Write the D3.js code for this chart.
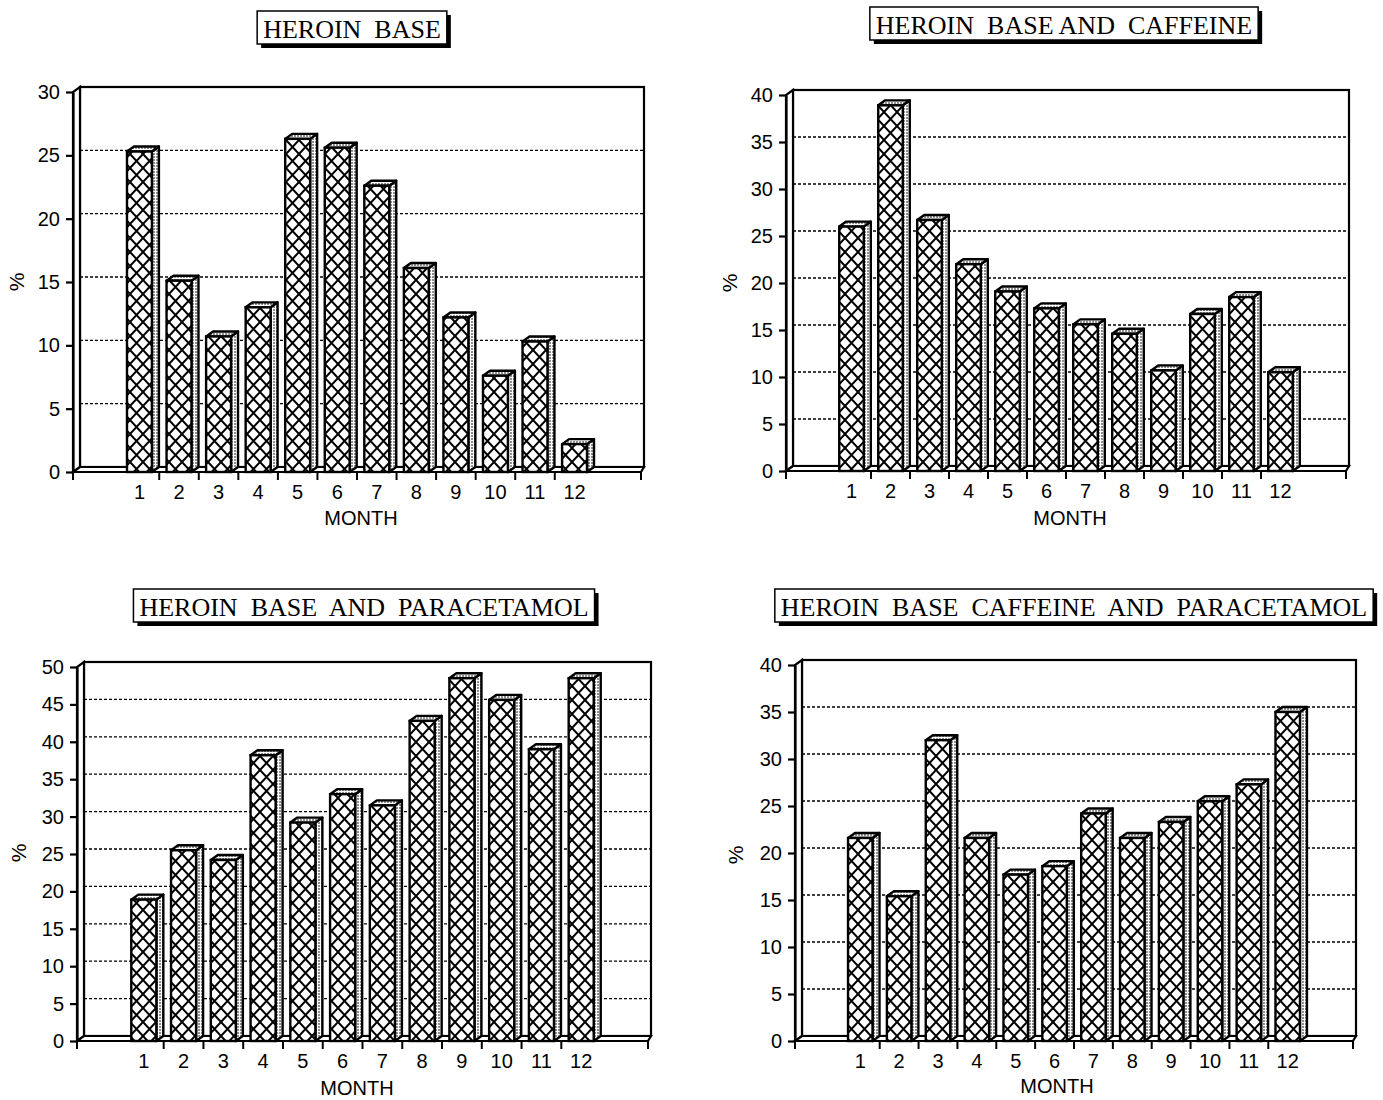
<!DOCTYPE html>
<html>
<head>
<meta charset="utf-8">
<script src="https://cdn.jsdelivr.net/npm/d3@7"></script>
<style>
  body { margin: 0; background: #fff; }
  .title { font-family: "Liberation Serif", "Times New Roman", serif; white-space: pre; }
</style>
</head>
<body>
<div id="chart"></div>
<script>
// data (percent per month)
var months = ["1", "2", "3", "4", "5", "6", "7", "8", "9", "10", "11", "12"];
var heroinBase = [25.3, 15.1, 10.7, 13.0, 26.3, 25.6, 22.6, 16.1, 12.2, 7.6, 10.3, 2.2];
var heroinCaffeine = [26.0, 38.9, 26.7, 22.0, 19.1, 17.3, 15.6, 14.6, 10.7, 16.7, 18.5, 10.5];
var heroinParacetamol = [18.9, 25.5, 24.2, 38.2, 29.2, 33.0, 31.5, 42.8, 48.5, 45.6, 39.0, 48.5];
var heroinCaffParac = [21.6, 15.4, 32.0, 21.6, 17.7, 18.6, 24.2, 21.6, 23.3, 25.5, 27.3, 35.0];

var titles = ["HEROIN  BASE", "HEROIN  BASE AND  CAFFEINE",
              "HEROIN  BASE  AND  PARACETAMOL", "HEROIN  BASE  CAFFEINE  AND  PARACETAMOL"];
var ticks30 = [0, 5, 10, 15, 20, 25, 30];
var ticks40 = [0, 5, 10, 15, 20, 25, 30, 35, 40];
var ticks50 = [0, 5, 10, 15, 20, 25, 30, 35, 40, 45, 50];
var yLabel = "%";
var xLabel = "MONTH";

// panel layout (positions only)
var panels = [
  {values: heroinBase,        ticks: ticks30, L: 73,  R: 641,  y0: 472,  top: 92,  tx: 352,  ty: 38,  px: 18,  py: 282, mx: 361,  my: 520},
  {values: heroinCaffeine,    ticks: ticks40, L: 786, R: 1346, y0: 471,  top: 95,  tx: 1064, ty: 34,  px: 731, py: 283, mx: 1070, my: 520},
  {values: heroinParacetamol, ticks: ticks50, L: 77,  R: 648,  y0: 1041, top: 667, tx: 364,  ty: 616, px: 20,  py: 853, mx: 357,  my: 1090},
  {values: heroinCaffParac,   ticks: ticks40, L: 795, R: 1353, y0: 1041, top: 665, tx: 1074, ty: 616, px: 737, py: 855, mx: 1057, my: 1088}
];

var dx = 7, dy = -5;   // 3d depth offset

var svg = d3.select("#chart").append("svg")
    .attr("width", 1383)
    .attr("height", 1100);

// fill patterns
var defs = svg.append("defs");
var hatch = defs.append("pattern")
    .attr("id", "hatch")
    .attr("patternUnits", "userSpaceOnUse")
    .attr("width", 13).attr("height", 14);
hatch.append("rect").attr("width", 13).attr("height", 14).attr("fill", "#fff");
hatch.append("path")
    .attr("d", "M0,0L13,14M13,0L0,14")
    .attr("stroke", "#000").attr("stroke-width", 2);

var dots = defs.append("pattern")
    .attr("id", "dots")
    .attr("patternUnits", "userSpaceOnUse")
    .attr("width", 3).attr("height", 3);
dots.append("rect").attr("width", 3).attr("height", 3).attr("fill", "#fff");
dots.append("circle").attr("cx", 1).attr("cy", 1).attr("r", 0.8).attr("fill", "#000");

panels.forEach(function(p, i) {
    var g = svg.append("g");
    var yMax = p.ticks[p.ticks.length - 1];

    var y = d3.scaleLinear().domain([0, yMax]).range([p.y0, p.top]);
    var x = d3.scaleBand().domain(months).range([p.L, p.R]).paddingInner(0).paddingOuter(1.18);
    var step = x.step();
    var w = step * 0.63;
    var Rb = p.R + 3;

    // back wall
    g.append("rect")
        .attr("x", p.L + dx).attr("y", p.top + dy)
        .attr("width", Rb - p.L - dx).attr("height", p.y0 - p.top)
        .attr("fill", "#fff").attr("stroke", "#000").attr("stroke-width", 2.2);

    // gridlines on the back wall
    g.selectAll(".grid")
        .data(p.ticks.filter(function(t) { return t > 0 && t < yMax; }))
        .join("line")
        .attr("x1", p.L + dx).attr("x2", Rb)
        .attr("y1", function(d) { return y(d) + dy; })
        .attr("y2", function(d) { return y(d) + dy; })
        .attr("stroke", "#000").attr("stroke-width", 1.3)
        .attr("stroke-dasharray", "3,2");

    // left wall
    g.append("polygon")
        .attr("points", [[p.L, p.y0], [p.L, p.top], [p.L + dx, p.top + dy], [p.L + dx, p.y0 + dy]].join(" "))
        .attr("fill", "#fff").attr("stroke", "#000").attr("stroke-width", 2.2);

    // floor
    g.append("polygon")
        .attr("points", [[p.L, p.y0], [p.R, p.y0], [Rb, p.y0 + dy], [p.L + dx, p.y0 + dy]].join(" "))
        .attr("fill", "#fff").attr("stroke", "#000").attr("stroke-width", 2.2);

    // bars: side, cap, front
    var bars = g.selectAll(".bar")
        .data(p.values)
        .join("g");

    var fx = function(d, j) { return x(months[j]) + (step - w) / 2; };

    bars.append("polygon")
        .attr("points", function(d, j) {
            var x0 = fx(d, j) + w, yt = y(d);
            return [[x0, p.y0], [x0, yt], [x0 + dx, yt + dy], [x0 + dx, p.y0 + dy]].join(" ");
        })
        .attr("fill", "url(#dots)").attr("stroke", "#000").attr("stroke-width", 2.4)
        .attr("stroke-linejoin", "round");

    bars.append("polygon")
        .attr("points", function(d, j) {
            var x0 = fx(d, j), yt = y(d);
            return [[x0, yt], [x0 + dx, yt + dy], [x0 + w + dx, yt + dy], [x0 + w, yt]].join(" ");
        })
        .attr("fill", "url(#dots)").attr("stroke", "#000").attr("stroke-width", 2.4)
        .attr("stroke-linejoin", "round");

    bars.append("rect")
        .attr("x", fx)
        .attr("y", function(d) { return y(d); })
        .attr("width", w)
        .attr("height", function(d) { return p.y0 - y(d); })
        .attr("fill", "url(#hatch)").attr("stroke", "#000").attr("stroke-width", 2.4);

    // y axis
    var yAxis = g.append("g")
        .attr("transform", "translate(" + p.L + ",0)")
        .call(d3.axisLeft(y).tickValues(p.ticks).tickSize(7).tickPadding(6).tickSizeOuter(0));
    yAxis.attr("font-size", 20).attr("font-family", "'Liberation Sans', Arial, sans-serif");
    yAxis.selectAll("path, line").attr("stroke-width", 2.2);

    // x axis labels
    var xAxis = g.append("g")
        .attr("transform", "translate(0," + p.y0 + ")")
        .call(d3.axisBottom(x).tickSize(0).tickPadding(13));
    xAxis.attr("font-size", 20).attr("font-family", "'Liberation Sans', Arial, sans-serif");
    xAxis.select(".domain").remove();

    // x axis line and tick marks between months
    g.append("line")
        .attr("x1", p.L).attr("x2", p.R)
        .attr("y1", p.y0).attr("y2", p.y0)
        .attr("stroke", "#000").attr("stroke-width", 2.2);
    var marks = [p.L].concat(months.slice(1).map(function(m) { return x(m); })).concat([p.R]);
    g.selectAll(".mark")
        .data(marks)
        .join("line")
        .attr("x1", function(d) { return d; }).attr("x2", function(d) { return d; })
        .attr("y1", p.y0).attr("y2", p.y0 + 8)
        .attr("stroke", "#000").attr("stroke-width", 2);

    // axis titles
    g.append("text")
        .attr("transform", "translate(" + p.px + "," + p.py + ") rotate(-90)")
        .attr("text-anchor", "middle")
        .attr("dominant-baseline", "middle")
        .style("font", "21px 'Liberation Sans', Arial, sans-serif")
        .text(yLabel);

    g.append("text")
        .attr("x", p.mx).attr("y", p.my)
        .attr("text-anchor", "middle")
        .attr("dominant-baseline", "middle")
        .style("font", "20px 'Liberation Sans', Arial, sans-serif")
        .text(xLabel);

    // boxed title with drop shadow
    var tg = g.append("g");
    var shadow = tg.append("rect").attr("fill", "#000");
    var box = tg.append("rect").attr("fill", "#fff").attr("stroke", "#000").attr("stroke-width", 1.5);
    var t = tg.append("text")
        .attr("class", "title")
        .attr("x", p.tx).attr("y", p.ty)
        .attr("text-anchor", "middle")
        .style("font-size", "26px")
        .text(titles[i]);
    var bb = t.node().getBBox();
    var bx = bb.x - 6, by = p.ty - 27, bw = bb.width + 12, bh = 33;
    box.attr("x", bx).attr("y", by).attr("width", bw).attr("height", bh);
    shadow.attr("x", bx + 4).attr("y", by + 4).attr("width", bw).attr("height", bh);
});
</script>
</body>
</html>
